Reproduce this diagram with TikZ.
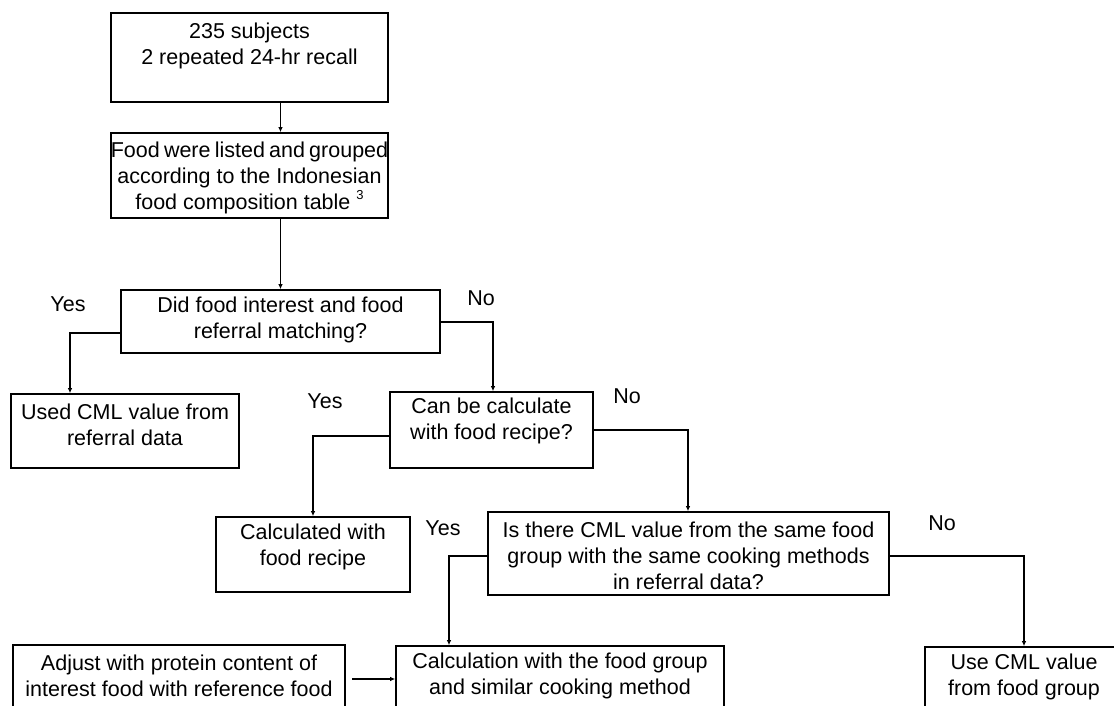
\documentclass[tikz,border=0pt]{standalone}
\usepackage{fontspec}
\setmainfont{Liberation Sans}
\usetikzlibrary{arrows.meta}
\tikzset{
  box/.style={draw=black, line width=1.6pt, rectangle, inner sep=0pt},
  txt/.style={align=center, inner sep=0pt, font=\fontsize{21.5}{26}\selectfont},
  lbl/.style={inner sep=0pt, font=\fontsize{21.5}{26}\selectfont},
  arr/.style={draw=black, line width=1.3pt, -{Latex[length=5pt,width=4.5pt]}},
}
\begin{document}
\begin{tikzpicture}[x=1pt,y=-1pt]
\useasboundingbox[fill=white] (0,0) rectangle (1114,706);
% boxes
\node[box, minimum width=277pt, minimum height=89pt] (b1) at (249.5,57.5) {};
\node[txt] (t1) at (249.5,46) {235 subjects\\2 repeated 24-hr recall};
\node[box, minimum width=277pt, minimum height=85pt] (b2) at (249.5,175.5) {};
\node[txt] (t2) at (249.5,178) {\spaceskip=4.2pt Food were listed and grouped\\according to the Indonesian\\food composition table \raisebox{0.45em}{\fontsize{13}{13}\selectfont 3}};
\node[box, minimum width=319pt, minimum height=63pt] (b3) at (280.5,321.5) {};
\node[txt] (t3) at (280.5,320) {Did food interest and food\\referral matching?};
\node[box, minimum width=228pt, minimum height=74pt] (b4) at (125,431) {};
\node[txt] (t4) at (125,425) {Used CML value from\\referral data};
\node[box, minimum width=203pt, minimum height=76pt] (b5) at (491.5,430) {};
\node[txt] (t5) at (491.5,421) {Can be calculate\\with food recipe?};
\node[box, minimum width=194pt, minimum height=75pt] (b6) at (313,554.5) {};
\node[txt] (t6) at (313,547) {Calculated with\\food recipe};
\node[box, minimum width=401pt, minimum height=83pt] (b7) at (688.5,553.5) {};
\node[txt] (t7) at (688.5,556) {Is there CML value from the same food\\group with the same cooking methods\\in referral data?};
\node[box, minimum width=332pt, minimum height=66pt] (b8) at (179,678) {};
\node[txt] (t8) at (179,676) {Adjust with protein content of\\interest food with reference food};
\node[box, minimum width=328pt, minimum height=66pt] (b9) at (560,679) {};
\node[txt] (t9) at (560,676) {Calculation with the food group\\and similar cooking method};
\node[box, minimum width=198pt, minimum height=66pt] (b10) at (1024,680) {};
\node[txt] (t10) at (1024,677) {Use CML value\\from food group};
% labels
\node[lbl] (y1) at (68,304) {Yes};
\node[lbl] (n1) at (481,298) {No};
\node[lbl] (y2) at (325,401) {Yes};
\node[lbl] (n2) at (627,396) {No};
\node[lbl] (y3) at (443,528) {Yes};
\node[lbl] (n3) at (942,523) {No};
% connectors
\draw[arr] (b1.south -| b3.north) -- (b2.north -| b3.north);
\draw[arr] (b2.south -| b3.north) -- (b3.north);
\coordinate (c1) at (70,333);
\draw[arr] (b3.west |- c1) -- (c1) -- (c1 |- b4.north);
\coordinate (c2) at (493,322);
\draw[arr] (b3.east |- c2) -- (c2) -- (c2 |- b5.north);
\coordinate (c3) at (313,436);
\draw[arr] (b5.west |- c3) -- (c3) -- (c3 |- b6.north);
\coordinate (c4) at (688,430);
\draw[arr] (b5.east |- c4) -- (c4) -- (c4 |- b7.north);
\coordinate (c5) at (449,556);
\draw[arr] (b7.west |- c5) -- (c5) -- (c5 |- b9.north);
\coordinate (c6) at (1024,556);
\draw[arr] (b7.east |- c6) -- (c6) -- (c6 |- b10.north);
\coordinate (c7) at (352,679);
\draw[arr] (c7) -- (c7 -| b9.west);
\end{tikzpicture}
\end{document}
